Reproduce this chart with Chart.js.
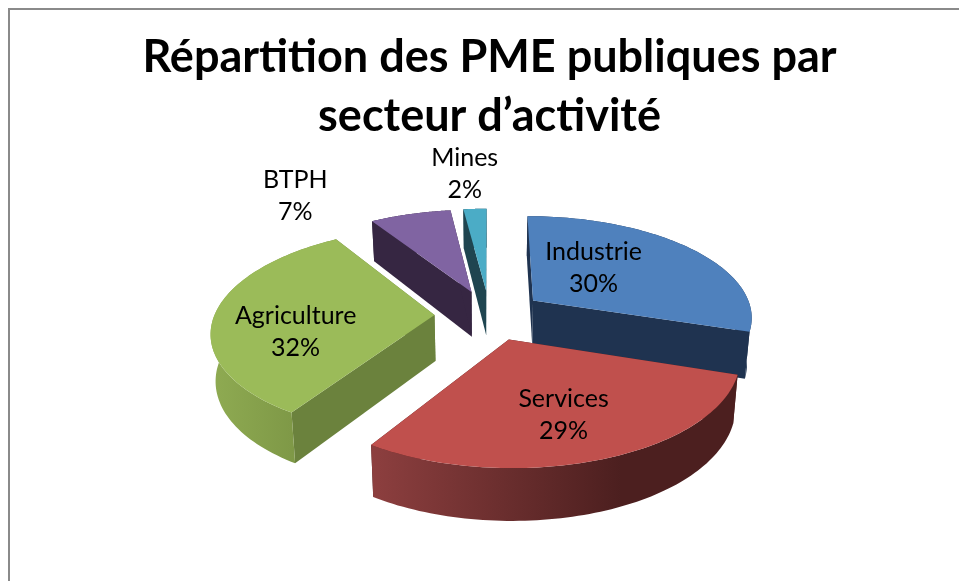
<!DOCTYPE html>
<html lang="fr">
<head>
<meta charset="utf-8">
<title>PME publiques</title>
<script src="https://cdn.jsdelivr.net/npm/chart.js@4"></script>
<style>
  html, body { margin: 0; padding: 0; background: #fff; overflow: hidden; }
  #wrap { position: relative; width: 959px; height: 581px; }
  #frame {
    position: absolute; left: 8px; top: 8px; right: 0; bottom: 0;
    border-left: 2px solid #8a8a8a; border-top: 2px solid #8a8a8a;
  }
  canvas { position: absolute; left: 0; top: 0; }
</style>
</head>
<body>
<div id="wrap">
  <div id="frame"></div>
  <canvas id="pie" width="959" height="581"></canvas>
</div>
<script>
const categories = ["Industrie", "Services", "Agriculture", "BTPH", "Mines"];
const shares = [30, 29, 32, 7, 2];
const titleLines = ["Répartition des PME publiques par", "secteur d’activité"];

const topColors = ["#4f81bd", "#c0504d", "#9bbb59", "#8064a2", "#4bacc6"];
const cutColors = ["#1f3350", "#4c1f1f", "#6b823d", "#362642", "#1f4550"];
const wallLeft = ["#1f3350", "#8d3f3f", "#8fab52", "#362642", "#1f4550"];
const wallRight = ["#1f3350", "#4c1f1f", "#768f41", "#362642", "#1f4550"];

// label placement, in degrees from the slice middle and in pie radii
const labelTurn = [-8.5, 1, -10.8, -17, -1];
const labelReach = [0.713, 0.91, 0.875, 1.79, 1.78];

const flatten = 0.459;
const perspective = 0.15;
const depth = 46;

function project(arc, u, v, h) {
  const s = 1 / (1 - perspective * v);
  const r = arc.outerRadius;
  return {
    x: arc.x + r * u * s * (1 - 0.018 * h),
    y: arc.y + flatten * r * v * s + h * depth * (1 + 0.12 * v),
  };
}

function rimPoints(arc, h) {
  const mid = (arc.startAngle + arc.endAngle) / 2;
  const ex = (arc.options.offset / arc.outerRadius) * Math.cos(mid);
  const ey = (arc.options.offset / arc.outerRadius) * Math.sin(mid);
  const pts = [];
  const steps = 80;
  for (let i = 0; i <= steps; i++) {
    const a = arc.startAngle + ((arc.endAngle - arc.startAngle) * i) / steps;
    pts.push(project(arc, ex + Math.cos(a), ey + Math.sin(a), h));
  }
  return { pts, apex: project(arc, ex, ey, h) };
}

function fillShape(ctx, pts, fill) {
  ctx.beginPath();
  pts.forEach((p, i) => (i ? ctx.lineTo(p.x, p.y) : ctx.moveTo(p.x, p.y)));
  ctx.closePath();
  ctx.fillStyle = fill;
  ctx.fill();
}

const pie3d = {
  id: "pie3d",
  beforeDatasetDraw(chart) {
    const ctx = chart.ctx;
    const arcs = chart.getDatasetMeta(0).data;
    const order = arcs.map((arc, i) => i).sort((a, b) => {
      const midA = (arcs[a].startAngle + arcs[a].endAngle) / 2;
      const midB = (arcs[b].startAngle + arcs[b].endAngle) / 2;
      return Math.sin(midA) - Math.sin(midB);
    });

    order.forEach((i) => {
      const arc = arcs[i];
      const top = rimPoints(arc, 0);
      const bottom = rimPoints(arc, 1);
      const xs = top.pts.map((p) => p.x);
      const grad = ctx.createLinearGradient(Math.min(...xs), 0, Math.min(Math.max(...xs), Math.min(...xs) + 250), 0);
      grad.addColorStop(0, wallLeft[i]);
      grad.addColorStop(1, wallRight[i]);

      const last = top.pts.length - 1;
      fillShape(ctx, [top.apex, top.pts[0], bottom.pts[0], bottom.apex], cutColors[i]);
      fillShape(ctx, [top.apex, top.pts[last], bottom.pts[last], bottom.apex], cutColors[i]);
      fillShape(ctx, top.pts.concat(bottom.pts.slice().reverse()), grad);
      fillShape(ctx, [top.apex].concat(top.pts), topColors[i]);
    });
    return false;
  },
  afterDatasetsDraw(chart) {
    const ctx = chart.ctx;
    const arcs = chart.getDatasetMeta(0).data;
    const total = shares.reduce((a, b) => a + b, 0);
    ctx.save();
    ctx.font = "25px Lato";
    ctx.fillStyle = "#000";
    ctx.textAlign = "center";
    ctx.textBaseline = "middle";
    arcs.forEach((arc, i) => {
      const mid = (arc.startAngle + arc.endAngle) / 2 + (labelTurn[i] * Math.PI) / 180;
      const p = project(arc, labelReach[i] * Math.cos(mid), labelReach[i] * Math.sin(mid), 0);
      ctx.fillText(categories[i], p.x, p.y - 16);
      ctx.fillText(Math.round((shares[i] / total) * 100) + "%", p.x, p.y + 16);
    });
    ctx.restore();
  },
};

new Chart(document.getElementById("pie"), {
  type: "pie",
  data: {
    labels: categories,
    datasets: [
      {
        data: shares,
        backgroundColor: topColors,
        offset: 55,
      },
    ],
  },
  options: {
    responsive: false,
    animation: false,
    radius: 220,
    layout: { padding: { left: 20, bottom: 97 } },
    plugins: {
      legend: { display: false },
      tooltip: { enabled: false },
      title: {
        display: true,
        text: titleLines,
        color: "#000",
        font: { family: "Lato", size: 45, weight: "bold", lineHeight: 1.311 },
        padding: { top: 28, bottom: 0 },
      },
    },
  },
  plugins: [pie3d],
});
</script>
</body>
</html>
